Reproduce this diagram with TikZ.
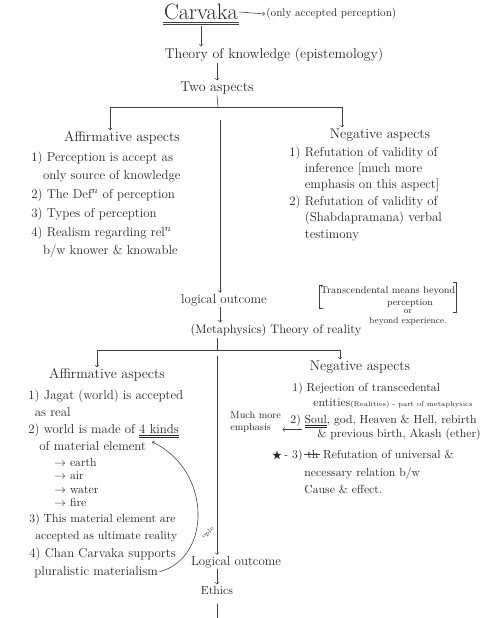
\documentclass[tikz,border=0pt]{standalone}
\usepackage{amssymb}
\begin{document}
\begin{tikzpicture}[
		x=0.03cm, y=-0.03cm,
		every node/.style={text=black!85, inner sep=1pt},
		title/.style={font=\fontsize{19}{21}\selectfont},
		head/.style={font=\fontsize{12}{14}\selectfont},
		plain/.style={font=\fontsize{11}{13}\selectfont},
		listtext/.style={
			align=left,
			anchor=north west,
			font=\fontsize{11}{16}\selectfont
		},
		listline/.style={
			anchor=base west,
			font=\fontsize{11}{13}\selectfont
		},
		small/.style={font=\fontsize{8.5}{10}\selectfont, align=center},
		line/.style={draw=black!75, line width=0.5pt},
		arrow/.style={line, ->}
	]
	\useasboundingbox (0,0) rectangle (500,618);
	
	% Top
	\node[title] (carv) at (201,12) {Carvaka};
	\draw[line] ([yshift=-1pt]carv.south west) -- ([yshift=-1pt]carv.south east);
	\draw[line] ([yshift=-2.5pt]carv.south west) -- ([yshift=-2.5pt]carv.south east);
	\node[plain, anchor=west, font=\fontsize{9.5}{11}\selectfont] (only) at (265,14) {(only accepted perception)};
	\draw[arrow] (carv.east) -- (only.west);
	
	\node[head] (tok) at (274,55) {Theory of knowledge (epistemology)};
	\draw[arrow] ([yshift=-4pt]carv.south) -- (carv.south |- tok.north);
	
	\node[head] (two) at (217,88) {Two aspects};
	\draw[arrow] (tok.south -| two.north) -- (two.north);
	
	% First split
	\coordinate (b1) at (218,107);
	\coordinate (b1l) at (110,107);
	\coordinate (b1r) at (342,107);
	\draw[line] (two.south) -- (b1);
	\draw[line] (b1l) -- (b1r);
	
	\node[head] (affT) at (122,138) {Affirmative aspects};
	\node[head] (negT) at (380,135) {Negative aspects};
	\draw[arrow] (b1l) -- (b1l |- affT.north);
	\draw[arrow] (b1r) -- (b1r |- negT.north);
	
	% Affirmative aspects (knowledge)
	\node[listtext] (affL) at (30,150) {1) Perception is accept as\\
		\hspace*{0.9em}only source of knowledge\\
		2) The Def$^n$ of perception\\
		3) Types of perception\\
		4) Realism regarding rel$^n$\\
		\hspace*{0.9em}b/w knower \& knowable};
	
	% Negative aspects (knowledge)
	\node[listtext, font=\fontsize{11}{14}\selectfont] (negR) at (288,145) {1) Refutation of validity of\\
		\hspace*{1.2em}inference [much more\\
		\hspace*{1.2em}emphasis on this aspect]\\
		2) Refutation of validity of\\
		\hspace*{1.2em}(Shabdapramana) verbal\\
		\hspace*{1.2em}testimony};
	
	% Logical outcome
	\coordinate (c1) at (220,120);
	\node[plain] (logic1) at (224,300) {logical outcome};
	\draw[arrow] (c1) -- (c1 |- logic1.north);
	
	\node[small, font=\fontsize{8.5}{10}\selectfont] (trans) at (388,291) {Transcendental means beyond};
	\node[small, font=\fontsize{8}{9}\selectfont] (perc) at (410,303) {perception};
	\draw[line] ([xshift=3pt]trans.north west) -- (trans.north west) -- (trans.west |- perc.south) -- ([xshift=3pt]trans.west |- perc.south);
	\draw[line] ([xshift=-3pt,yshift=2pt]trans.north east) -- ([yshift=2pt]trans.north east) -- ([yshift=-3pt]trans.east |- perc.south) -- ([xshift=-3pt,yshift=-3pt]trans.east |- perc.south);
	\node[small, font=\fontsize{7.5}{8.5}\selectfont, anchor=north] (orr) at (408,308) {or\\beyond experience.};
	
	\node[plain, font=\fontsize{10.5}{12}\selectfont] (meta) at (276,330) {(Metaphysics) Theory of reality};
	\draw[arrow] (logic1.south -| c1) -- (c1 |- meta.north);
	
	% Second split
	\coordinate (b2) at (217,350);
	\coordinate (b2l) at (97,350);
	\coordinate (b2r) at (340,350);
	\draw[line] (meta.south -| b2) -- (b2);
	\draw[line] (b2l) -- (b2r);
	
	\node[head] (affT2) at (107,375) {Affirmative aspects};
	\node[head] (negT2) at (360,367) {Negative aspects};
	\draw[arrow] (b2l) -- (b2l |- affT2.north);
	\draw[arrow] (b2r) -- (b2r |- negT2.north);
	
	% Affirmative aspects (reality)
	\node[listtext, font=\fontsize{11}{14.5}\selectfont] (jag) at (27,388) {1) Jagat (world) is accepted\\
		\hspace*{0.5em}as real};
	\node[listline] (made) at (27,433) {2) world is made of \underline{\underline{4 kinds}}};
	\node[listline] (elem) at (38,450) {of material element};
	\node[listtext, font=\fontsize{10}{11.4}\selectfont] (elist) at (53,457) {$\rightarrow$ earth\\
		$\rightarrow$ air\\
		$\rightarrow$ water\\
		$\rightarrow$ fire};
	\node[listtext, font=\fontsize{10}{15}\selectfont] (ult) at (28,512) {3) This material element are\\
		\hspace*{0.5em}accepted as ultimate reality};
	\node[listline] (chan) at (28,557) {4) Chan Carvaka supports};
	\node[listline] (plur) at (33,575) {pluralistic materialism};
	\draw[arrow] (plur.east) .. controls (212,558) and (212,470) .. ([xshift=4pt,yshift=-2pt]elem.north east);
	\node[font=\fontsize{5.5}{6}\selectfont, rotate=40] (ople) at (208,533) {ople};
	
	% Negative aspects (reality)
	\node[listtext, font=\fontsize{10}{12.8}\selectfont] (rej) at (291,381) {1) Rejection of transcedental\\
		\hspace*{1.8em}entities{\fontsize{6}{7}\selectfont(Realities) - part of metaphysics}};
	\node[listline, font=\fontsize{10}{12}\selectfont] (soul) at (289,423) {2) \underline{\underline{Soul}}, god, Heaven \& Hell, rebirth};
	\node[listline, font=\fontsize{10}{12}\selectfont] (prev) at (316,437) {\& previous birth, Akash (ether)};
	\node[small, align=left, anchor=north west] (emph) at (229,410) {Much more\\emphasis};
	\draw[arrow] ([xshift=11pt]soul.south west) -- (soul.south west -| emph.east);
	\node[font=\fontsize{9}{10}\selectfont] (star) at (277,456) {$\bigstar$};
	\node[listline, font=\fontsize{10}{12}\selectfont] (three) at (283,458) {- 3)};
	\node[listline, font=\fontsize{10}{12}\selectfont] (cross) at (three.base east) {\,th};
	\draw[line] (cross.west) -- (cross.east);
	\node[listline, font=\fontsize{10}{12}\selectfont] (rfu) at (cross.base east) {\,Refutation of universal \&};
	\node[listtext, font=\fontsize{10}{14.5}\selectfont] (nec) at (303,466) {necessary relation b/w\\
		Cause \& effect.};
	
	% Ethics
	\coordinate (c2) at (217,356);
	\node[plain] (logic2) at (236,562) {Logical outcome};
	\draw[arrow] (c2) -- (c2 |- logic2.north);
	\node[plain, font=\fontsize{10}{12}\selectfont] (ethics) at (217,590) {Ethics};
	\draw[arrow] (logic2.south -| ethics) -- (ethics.north);
	\coordinate (c3) at (218,618);
	\draw[line] ([yshift=-7pt]ethics.south) -- (ethics.south |- c3);
	
\end{tikzpicture}
\end{document}
